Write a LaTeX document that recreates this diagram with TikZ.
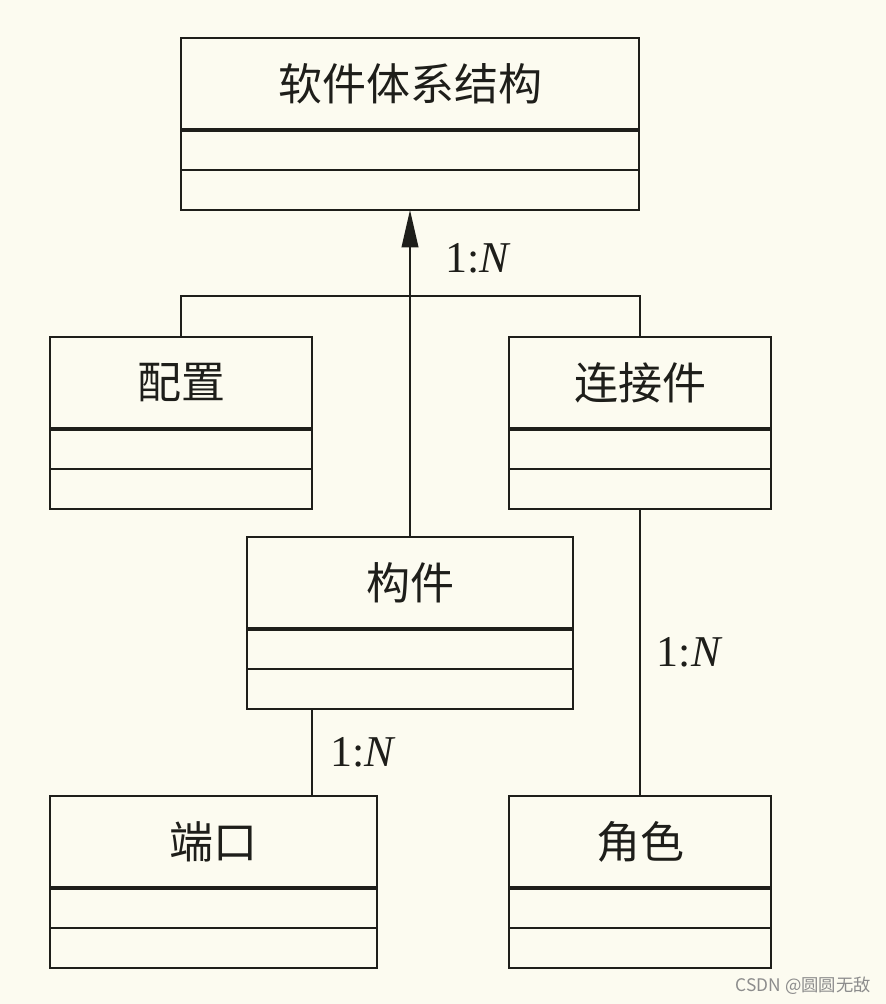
\documentclass[tikz,border=0pt]{standalone}
\usepackage{fontspec}
\usepackage{xcolor}
\setmainfont{Liberation Serif}
\newfontfamily\cjk{Noto Sans CJK SC}
\usetikzlibrary{arrows.meta}

\definecolor{paper}{RGB}{252,251,240}
\definecolor{ink}{RGB}{30,30,26}

\tikzset{
  namebox/.style={draw=ink, line width=1.3pt, minimum height=69pt, inner sep=0pt, outer sep=0pt,
    font=\cjk\fontsize{33pt}{38pt}\selectfont, text=ink},
  ratio/.style={font=\fontsize{33pt}{38pt}\selectfont, text=ink, inner sep=0pt},
  link/.style={draw=ink, line width=1.3pt},
}

\begin{document}
\begin{tikzpicture}[x=0.75pt, y=-0.75pt]
\fill[paper] (0,0) rectangle (886,1004);

% class name compartments
\node[namebox, minimum width=458*0.75pt] (arch) at (410,84) {软件体系结构};
\node[namebox, minimum width=262*0.75pt] (config) at (181,383) {配置};
\node[namebox, minimum width=262*0.75pt] (conn) at (640,383) {连接件};
\node[namebox, minimum width=326*0.75pt] (comp) at (410,583) {构件};
\node[namebox, minimum width=327*0.75pt] (port) at (213.5,842) {端口};
\node[namebox, minimum width=262*0.75pt] (role) at (640,842) {角色};

% attribute and operation compartments
\foreach \n/\w in {arch/458, config/262, conn/262, comp/326, port/327, role/262} {
  \draw[link] (\n.south west) rectangle ++(\w,80);
  \draw[link] (\n.south west) ++(0,40) -- ++(\w,0);
  \draw[draw=ink, line width=2.6pt] (\n.south west) -- (\n.south east);
  \path (\n.south) ++(0,80) coordinate (\n-bot);
}

% connectors
\draw[link, -{Triangle[length=28pt, width=12.5pt]}] (comp.north) --
  node[ratio, pos=0.853, anchor=west, xshift=26pt] {1:\textit{N}} (arch-bot);
\draw[link] (config.north) -- ++(0,-41) -| (conn.north);
\coordinate (portlink) at (312,796);
\draw[link] (portlink) -- node[ratio, anchor=west, xshift=13pt] {1:\textit{N}} (portlink |- comp-bot);
\draw[link] (conn-bot) -- node[ratio, anchor=west, xshift=12pt] {1:\textit{N}} (role.north);

\node[font=\cjk\fontsize{13pt}{15pt}\selectfont, text=black!45, anchor=east, inner sep=0pt] (mark) at (871,986) {CSDN @圆圆无敌};
\end{tikzpicture}
\end{document}
